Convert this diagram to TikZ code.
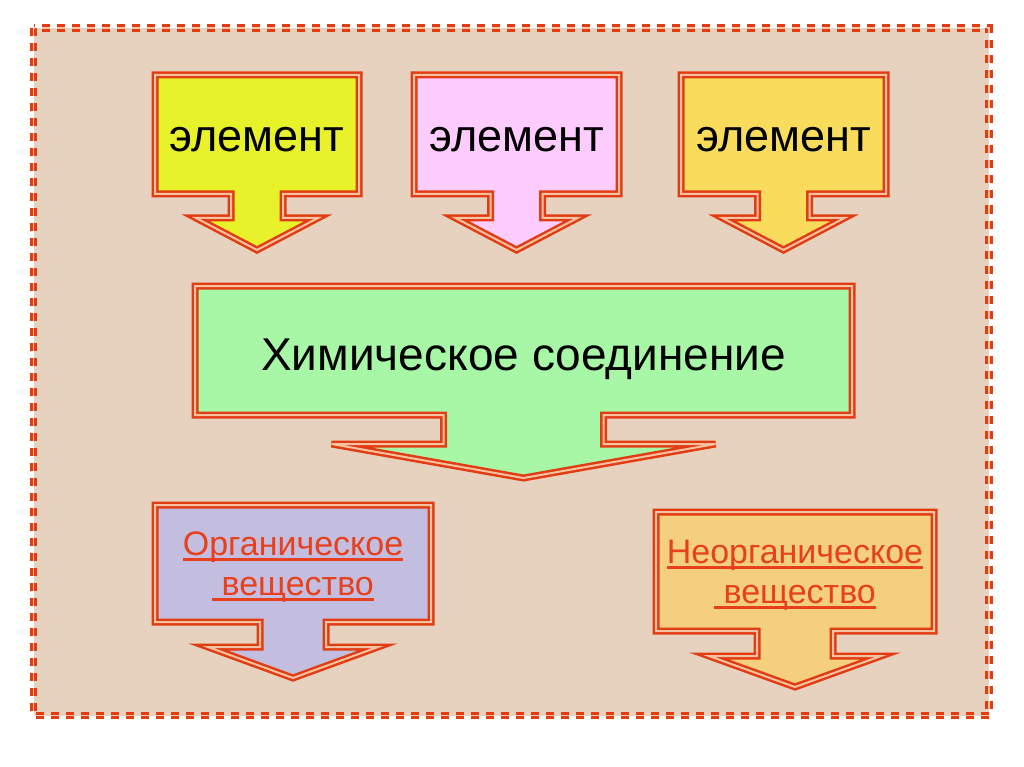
\documentclass[tikz,border=0pt]{standalone}
\usepackage{fontspec}
\setmainfont{Liberation Sans}
\usetikzlibrary{calc}
\definecolor{bg}{HTML}{E6D2BE}
\definecolor{bord}{HTML}{E23C12}
\definecolor{pale}{HTML}{F7C2A2}
\definecolor{txtred}{HTML}{E8401C}
\definecolor{cyellow}{HTML}{E8F22A}
\definecolor{cpink}{HTML}{FFCCFF}
\definecolor{cgold}{HTML}{F9DC5C}
\definecolor{cgreen}{HTML}{A7F7A7}
\definecolor{cpurple}{HTML}{C3BEE0}
\definecolor{clorange}{HTML}{F4D07E}
\newcommand\ulred[1]{\setbox0\hbox{#1}\rlap{\rule[-0.17em]{\wd0}{0.075em}}\box0}
% fill, x1, x2, ytop, ybot, stem half, wing half, yhead, ytip
\newcommand\mycallout[9]{%
  \pgfmathsetmacro\cx{(#2+#3)/2}%
  \path[fill=#1, calloutframe]
    (#2,#4) -- (#3,#4) -- (#3,#5) -- (\cx+#6,#5) -- (\cx+#6,#8) -- (\cx+#7,#8)
    -- (\cx,#9) -- (\cx-#7,#8) -- (\cx-#6,#8) -- (\cx-#6,#5) -- (#2,#5) -- cycle;
}
\tikzset{
  calloutframe/.style={line join=miter, miter limit=10,
    postaction={draw=bord, line width=7},
    postaction={draw=pale, line width=2}},
  bigtxt/.style={anchor=base, inner sep=0, font=\fontsize{45}{50}\selectfont},
  chemtxt/.style={anchor=base, inner sep=0, font=\fontsize{46}{50}\selectfont},
  redtxt/.style={anchor=base, inner sep=0, text=txtred, font=\fontsize{34}{40}\selectfont},
}
\begin{document}
\begin{tikzpicture}[x=1pt, y=-1pt]
\useasboundingbox (0,0) rectangle (1024,767);
\fill[white] (0,0) rectangle (1024,767);
% frame
\fill[bg] (33.5,28) rectangle (989,715.5);
\draw[bord, line width=7.5, dash pattern=on 8 off 7] (33.5,28) rectangle (989,715.5);
\draw[pale, line width=1.5, dash pattern=on 8 off 7] (33.5,28) rectangle (989,715.5);
% callouts
\mycallout{cyellow}{155}{359}{75}{194}{26}{61}{218}{250}
\mycallout{cpink}{414}{619}{75}{194}{26}{61}{218}{250}
\mycallout{cgold}{681}{886}{75}{194}{26}{61}{218}{250}
\mycallout{cgreen}{195}{852}{286}{415}{80}{192}{444}{478}
\mycallout{cpurple}{155}{431}{505}{622}{33}{85}{647}{678}
\mycallout{clorange}{656}{934}{512}{631}{38}{86}{656}{687}
% texts
\node[bigtxt] (e1) at (257,152) {элемент};
\node[bigtxt] (e2) at (516.5,152) {элемент};
\node[bigtxt] (e3) at (783.5,152) {элемент};
\node[chemtxt] (chem) at (523.5,370) {Химическое соединение};
\node[redtxt] (o1) at (293,555) {\ulred{Органическое}};
\node[redtxt] (o2) at (293,595) {\ulred{\ вещество}};
\node[redtxt] (n1) at (795,563) {\ulred{Неорганическое}};
\node[redtxt] (n2) at (795,603) {\ulred{\ вещество}};
\end{tikzpicture}
\end{document}
